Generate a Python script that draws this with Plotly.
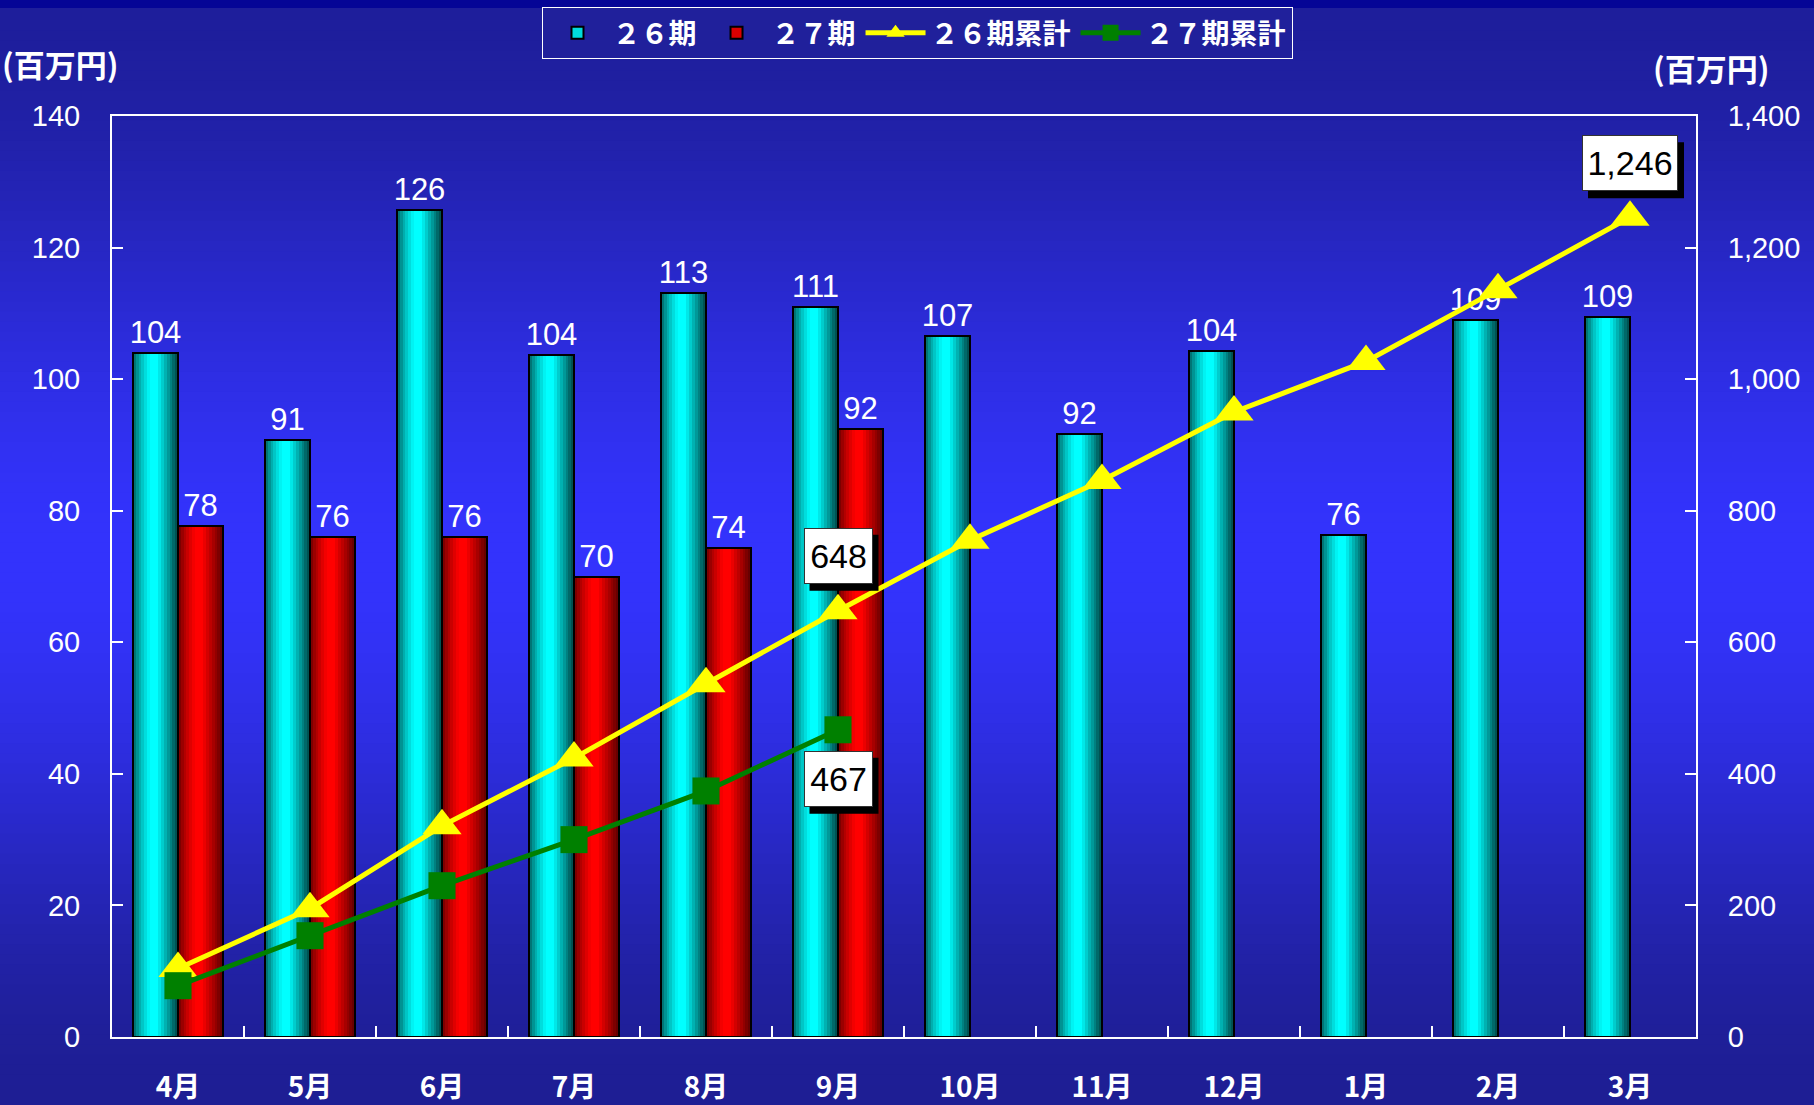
import plotly.graph_objects as go

# ---------------- data ----------------
months = ["4月", "5月", "6月", "7月", "8月", "9月", "10月", "11月", "12月", "1月", "2月", "3月"]
sales_26 = [103.9, 90.7, 125.7, 103.6, 113.1, 111.0, 106.6, 91.6, 104.3, 76.3, 109.0, 109.4]
sales_27 = [77.7, 76.0, 76.0, 70.0, 74.4, 92.4]
cum_26 = [104, 195, 321, 424, 537, 648, 755, 846, 950, 1027, 1136, 1246]
cum_27 = [78, 154, 230, 300, 374, 467]
left_ticks = [0, 20, 40, 60, 80, 100, 120, 140]
right_ticks = [0, 200, 400, 600, 800, 1000, 1200, 1400]
series_names = ["２６期", "２７期", "２６期累計", "２７期累計"]
unit_label = "(百万円)"

# ---------------- geometry / style ----------------
W, H = 1814, 1105
ML, MR, MT, MB = 112, 118, 116, 68
PW, PH = W - ML - MR, H - MT - MB
NUM_FONT = "Liberation Sans, Arial, sans-serif"
JP_FONT = "Noto Sans CJK JP, sans-serif"


def px_to_paper_y(py):
    return (H - MB - py) / PH


def px_to_paper_x(px):
    return (px - ML) / PW


def lerp(a, b, t):
    return tuple(round(a[i] + (b[i] - a[i]) * t) for i in range(3))


def bg_color(py):
    top, peak, bot = (30, 30, 155), (51, 51, 252), (30, 30, 148)
    pk = 560
    if py < pk:
        t = py / pk
        t = t * t * (3 - 2 * t)
        return lerp(top, peak, t)
    t = (py - pk) / (H - pk)
    t = t * t * (3 - 2 * t)
    return lerp(peak, bot, t)


def bar_shade(t, dark_l, bright, dark_r):
    if t < 0.38:
        return lerp(dark_l, bright, (t / 0.38) ** 0.8)
    if t < 0.55:
        return bright
    return lerp(bright, dark_r, ((t - 0.55) / 0.45) ** 0.9)


shapes = []
NB = 110
for i in range(NB):
    y0p = H * i / NB
    y1p = H * (i + 1) / NB + 1
    c = bg_color((y0p + y1p) / 2)
    shapes.append(dict(type="rect", xref="paper", yref="paper", layer="below",
                       x0=px_to_paper_x(0), x1=px_to_paper_x(W),
                       y0=px_to_paper_y(y1p), y1=px_to_paper_y(y0p),
                       fillcolor="rgb(%d,%d,%d)" % c, line=dict(width=0)))
shapes.append(dict(type="rect", xref="paper", yref="paper", layer="below",
                   x0=px_to_paper_x(0), x1=px_to_paper_x(W),
                   y0=px_to_paper_y(8), y1=px_to_paper_y(0),
                   fillcolor="rgb(5,5,150)", line=dict(width=0)))

fig = go.Figure()

BW = 0.341
NS = 16
months_27 = months[:len(sales_27)]
for name_idx, (xs, ys, base_off, cols) in enumerate([
        (months, sales_26, -BW, ((0, 95, 95), (0, 255, 255), (0, 70, 70))),
        (months_27, sales_27, 0.0, ((105, 0, 0), (255, 0, 0), (95, 0, 0)))]):
    for i in range(NS):
        t = (i + 0.5) / NS
        c = bar_shade(t, *cols)
        fig.add_trace(go.Bar(
            x=xs, y=ys, offset=base_off + i * BW / NS, width=BW / NS + 0.004,
            marker=dict(color="rgb(%d,%d,%d)" % c, line=dict(width=0)),
            showlegend=False, hoverinfo="skip"))
    fig.add_trace(go.Bar(
        x=xs, y=ys, offset=base_off, width=BW,
        marker=dict(color="rgba(0,0,0,0)", line=dict(color="black", width=2)),
        texttemplate="%{y:.0f}", textposition="outside", constraintext="none",
        cliponaxis=False,
        textfont=dict(family=NUM_FONT, size=31, color="white"),
        showlegend=False, hoverinfo="skip"))

# legend-only swatches for the bars
fig.add_trace(go.Bar(x=[None], y=[None], name=series_names[0],
                     marker=dict(color="rgb(0,220,220)", line=dict(color="black", width=2))))
fig.add_trace(go.Bar(x=[None], y=[None], name=series_names[1],
                     marker=dict(color="rgb(220,0,0)", line=dict(color="black", width=2))))

fig.add_trace(go.Scatter(
    x=months, y=cum_26, yaxis="y2", name=series_names[2], mode="lines+markers",
    line=dict(color="#ffff00", width=5),
    marker=dict(symbol="triangle-up", size=34, color="#ffff00"),
    cliponaxis=False))
fig.add_trace(go.Scatter(
    x=months_27, y=cum_27, yaxis="y2", name=series_names[3], mode="lines+markers",
    line=dict(color="#008000", width=5),
    marker=dict(symbol="square", size=27, color="#008000"),
    cliponaxis=False))

annotations = []
BOX_H = 48
PAD = 3


def callout(xcat, yval, yshift, w):
    txt = f"{yval:,}"
    tw, th = w + 2 * PAD + 2, BOX_H + 2 * PAD + 2
    shapes.append(dict(type="rect", xref="x", yref="y2", layer="above",
                       xsizemode="pixel", ysizemode="pixel",
                       xanchor=xcat, yanchor=yval,
                       x0=-tw / 2 + 6, x1=tw / 2 + 6,
                       y0=yshift - th / 2 - 7, y1=yshift + th / 2 - 7,
                       fillcolor="black", line=dict(width=0)))
    annotations.append(dict(x=xcat, y=yval, xref="x", yref="y2", showarrow=False,
                            text=txt, yshift=yshift, width=w, height=BOX_H,
                            borderpad=PAD, borderwidth=1,
                            bgcolor="white", bordercolor="#333333",
                            font=dict(family=NUM_FONT, size=34, color="black")))


callout(months[5], cum_26[5], 55, 61)
callout(months[5], cum_27[5], -49, 61)
callout(months[11], cum_26[11], 54, 88)

annotations.append(dict(text=unit_label, xref="paper", yref="paper",
                        x=px_to_paper_x(0), y=px_to_paper_y(64),
                        xanchor="left", yanchor="middle", showarrow=False,
                        font=dict(family=JP_FONT, size=31, color="white", weight="bold")))
annotations.append(dict(text=unit_label, xref="paper", yref="paper",
                        x=px_to_paper_x(1651), y=px_to_paper_y(68),
                        xanchor="left", yanchor="middle", showarrow=False,
                        font=dict(family=JP_FONT, size=31, color="white", weight="bold")))

fig.update_layout(
    width=W, height=H, autosize=False,
    margin=dict(l=ML, r=MR, t=MT, b=MB, pad=0, autoexpand=False),
    paper_bgcolor="rgb(32,32,152)", plot_bgcolor="rgba(0,0,0,0)",
    barmode="overlay", bargap=0,
    shapes=shapes, annotations=annotations,
    showlegend=True,
    legend=dict(orientation="h", x=px_to_paper_x(917), xanchor="center",
                y=px_to_paper_y(7), yanchor="top",
                bgcolor="rgb(32,32,155)", bordercolor="white", borderwidth=1,
                font=dict(family=JP_FONT, size=28, color="white", weight="bold"),
                itemwidth=60, traceorder="normal"),
    xaxis=dict(type="category", categoryorder="array", categoryarray=months,
               range=[-0.5, 11.5], showline=True, linecolor="white", linewidth=2,
               mirror=True, ticks="inside", tickson="boundaries", ticklen=11,
               tickwidth=2, tickcolor="white", showgrid=False, zeroline=False,
               ticklabelstandoff=24, automargin=False,
               tickfont=dict(family=JP_FONT, size=28, color="white", weight="bold")),
    yaxis=dict(range=[0, 140], tickvals=left_ticks, showline=True, linecolor="white",
               linewidth=2, ticks="inside", ticklen=11, tickwidth=2, tickcolor="white",
               showgrid=False, zeroline=False, ticklabelstandoff=24, automargin=False,
               tickfont=dict(family=NUM_FONT, size=29, color="white")),
    yaxis2=dict(range=[0, 1400], tickvals=right_ticks, tickformat=",d",
                overlaying="y", side="right", showline=True, linecolor="white",
                linewidth=2, ticks="inside", ticklen=11, tickwidth=2, tickcolor="white",
                showgrid=False, zeroline=False, ticklabelstandoff=24, automargin=False,
                tickfont=dict(family=NUM_FONT, size=29, color="white")),
)

fig.write_html("out.html", post_script="document.body.style.margin='0';",
               config={"displayModeBar": False})
